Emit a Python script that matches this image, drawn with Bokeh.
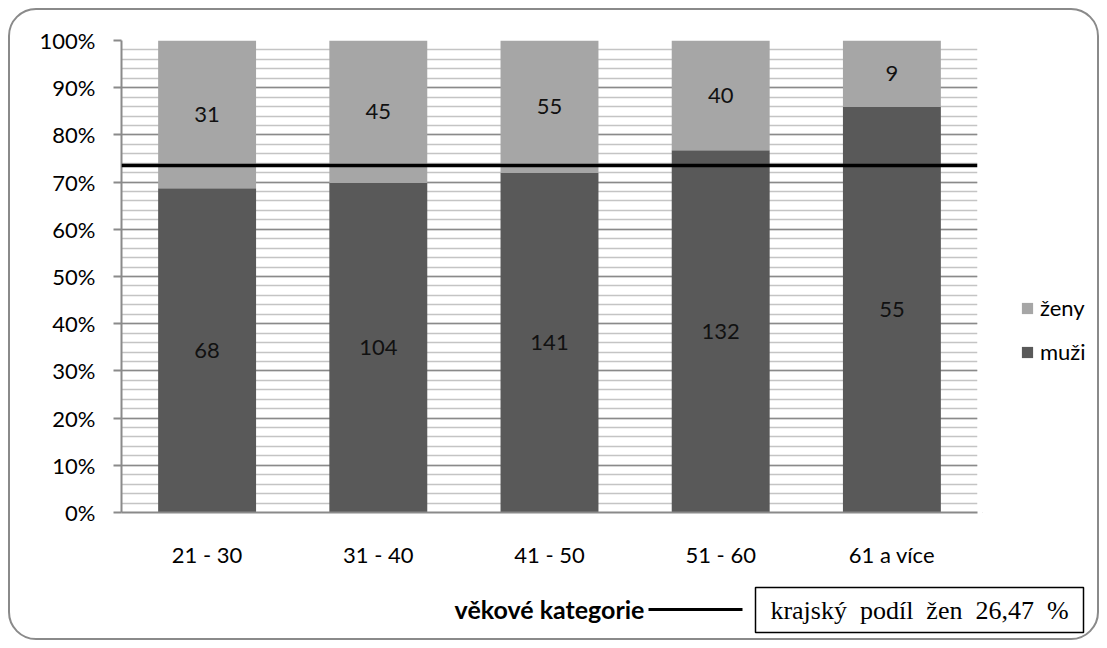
from bokeh.plotting import figure
from bokeh.layouts import column, row
from bokeh.models import (ColumnDataSource, FactorRange, Range1d, Span, Arrow, Label,
                          BoxAnnotation, Legend, LegendItem,
                          NumeralTickFormatter, SingleIntervalTicker)
from bokeh.core.properties import value
from bokeh.embed import file_html
from bokeh.resources import INLINE

# ---- data ----
categories = ["21 - 30", "31 - 40", "41 - 50", "51 - 60", "61 a více"]
muzi = [68, 104, 141, 132, 55]
zeny = [31, 45, 55, 40, 9]
series_names = ["ženy", "muži"]
kraj_podil_zen = 26.47  # %
axis_title = "věkové kategorie"
line_label = "krajský podíl žen 26,47 %"

FONT = "Lato"
C_MUZI = "#595959"
C_ZENY = "#a6a6a6"

tot = [m + z for m, z in zip(muzi, zeny)]
muzi_share = [m / t for m, t in zip(muzi, tot)]
zeny_share = [z / t for z, t in zip(zeny, tot)]
src = ColumnDataSource(dict(
    cat=categories,
    muzi_share=muzi_share,
    zeny_share=zeny_share,
    muzi_mid=[s / 2 for s in muzi_share],
    zeny_mid=[m + z / 2 for m, z in zip(muzi_share, zeny_share)],
    muzi_txt=[str(v) for v in muzi],
    zeny_txt=[str(v) for v in zeny],
))

# ---------------- main chart ----------------
p = figure(x_range=FactorRange(factors=categories, range_padding=0),
           y_range=Range1d(0, 1),
           width=972, height=568, output_backend="svg", toolbar_location=None,
           min_border_left=111, min_border_right=5, min_border_top=30, min_border_bottom=66)
p.outline_line_color = None
p.background_fill_color = "white"
p.border_fill_color = None

p.xgrid.grid_line_color = None
p.ygrid.grid_line_color = "#8a8a8a"
p.ygrid.grid_line_width = 1.5
p.ygrid.minor_grid_line_color = "#c4c4c4"
p.ygrid.minor_grid_line_width = 1.5

p.yaxis.ticker = SingleIntervalTicker(interval=0.1, num_minor_ticks=5)
p.yaxis.formatter = NumeralTickFormatter(format="0%")
p.yaxis.axis_line_color = "#8a8a8a"
p.yaxis.axis_line_width = 2
p.yaxis.major_tick_line_color = "#8a8a8a"
p.yaxis.major_tick_line_width = 2
p.yaxis.major_tick_out = 8
p.yaxis.major_tick_in = 0
p.yaxis.minor_tick_out = 0
p.yaxis.minor_tick_in = 0
p.yaxis.major_label_standoff = 18
p.yaxis.major_label_text_font = FONT
p.yaxis.major_label_text_font_size = "22px"
p.yaxis.major_label_text_color = "black"

p.xaxis.axis_line_color = "#8a8a8a"
p.xaxis.axis_line_width = 2
p.xaxis.major_tick_out = 0
p.xaxis.major_tick_in = 0
p.xaxis.major_label_standoff = 28
p.xaxis.major_label_text_font = FONT
p.xaxis.major_label_text_font_size = "22px"
p.xaxis.major_label_text_color = "black"

rs = p.vbar_stack(["muzi_share", "zeny_share"], x="cat", width=0.572, source=src,
                  color=[C_MUZI, C_ZENY], line_color=None)

p.text(x="cat", y="muzi_mid", text="muzi_txt", source=src, text_align="center",
       text_baseline="middle", text_font=value(FONT), text_font_size="22px", text_color="#111111")
p.text(x="cat", y="zeny_mid", text="zeny_txt", source=src, text_align="center",
       text_baseline="middle", text_font=value(FONT), text_font_size="22px", text_color="#111111")

p.add_layout(Span(location=1 - kraj_podil_zen / 100, dimension="width",
                  line_color="black", line_width=3.5))

# ---------------- legend panel (right) ----------------
pl = figure(width=115, height=568, output_backend="svg", toolbar_location=None,
            x_range=Range1d(0, 1), y_range=Range1d(0, 1),
            x_axis_type=None, y_axis_type=None,
            min_border_left=0, min_border_right=0, min_border_top=0, min_border_bottom=0)
pl.outline_line_color = None
pl.grid.visible = False
pl.border_fill_color = None
pl.background_fill_color = None
# legend proxies (kept outside the visible range of this panel)
lz = pl.vbar(x=[-5], top=[-5], bottom=[-6], width=0.5, color=C_ZENY, line_color=None)
lm = pl.vbar(x=[-5], top=[-5], bottom=[-6], width=0.5, color=C_MUZI, line_color=None)
legend = Legend(items=[LegendItem(label=series_names[0], renderers=[lz]),
                       LegendItem(label=series_names[1], renderers=[lm])],
                location=(38, 147), orientation="vertical",
                label_text_font=FONT, label_text_font_size="22px", label_text_color="black",
                glyph_width=14, glyph_height=14, label_standoff=6, spacing=17,
                padding=0, margin=0, border_line_color=None, background_fill_color=None)
pl.add_layout(legend)

# ---------------- bottom strip: axis title, line sample, boxed label ----------------
pb = figure(width=1087, height=60, output_backend="svg", toolbar_location=None,
            x_range=Range1d(0, 1), y_range=Range1d(0, 1),
            x_axis_type=None, y_axis_type=None,
            min_border_left=0, min_border_right=0, min_border_top=0, min_border_bottom=0)
pb.outline_line_color = None
pb.grid.visible = False
pb.border_fill_color = None
pb.background_fill_color = None

pb.add_layout(Label(x=539, y=30, x_units="screen", y_units="screen", text=axis_title,
                    text_align="center", text_baseline="middle",
                    text_font=FONT, text_font_size="25px", text_font_style="bold",
                    text_color="black"))
pb.add_layout(Arrow(x_start=638, y_start=29, x_end=732, y_end=29,
                    start_units="screen", end_units="screen", start=None, end=None,
                    line_color="black", line_width=3))
pb.add_layout(BoxAnnotation(left=745, right=1073, bottom=6, top=51,
                            left_units="screen", right_units="screen",
                            bottom_units="screen", top_units="screen",
                            fill_color=None, fill_alpha=0,
                            line_color="black", line_alpha=1, line_width=1.5))
pb.add_layout(Label(x=909, y=28.5, x_units="screen", y_units="screen",
                    text=line_label.replace(" ", "\u00a0 "),
                    text_align="center", text_baseline="middle",
                    text_font="Liberation Serif", text_font_size="26px", text_color="black"))

layout = column(row(p, pl, spacing=0), pb, spacing=0)
layout.styles = {"border": "2px solid #8a8a8a", "border-radius": "28px", "margin": "8px",
                 "background-color": "white"}

open("out.html", "w").write(file_html(layout, INLINE))
